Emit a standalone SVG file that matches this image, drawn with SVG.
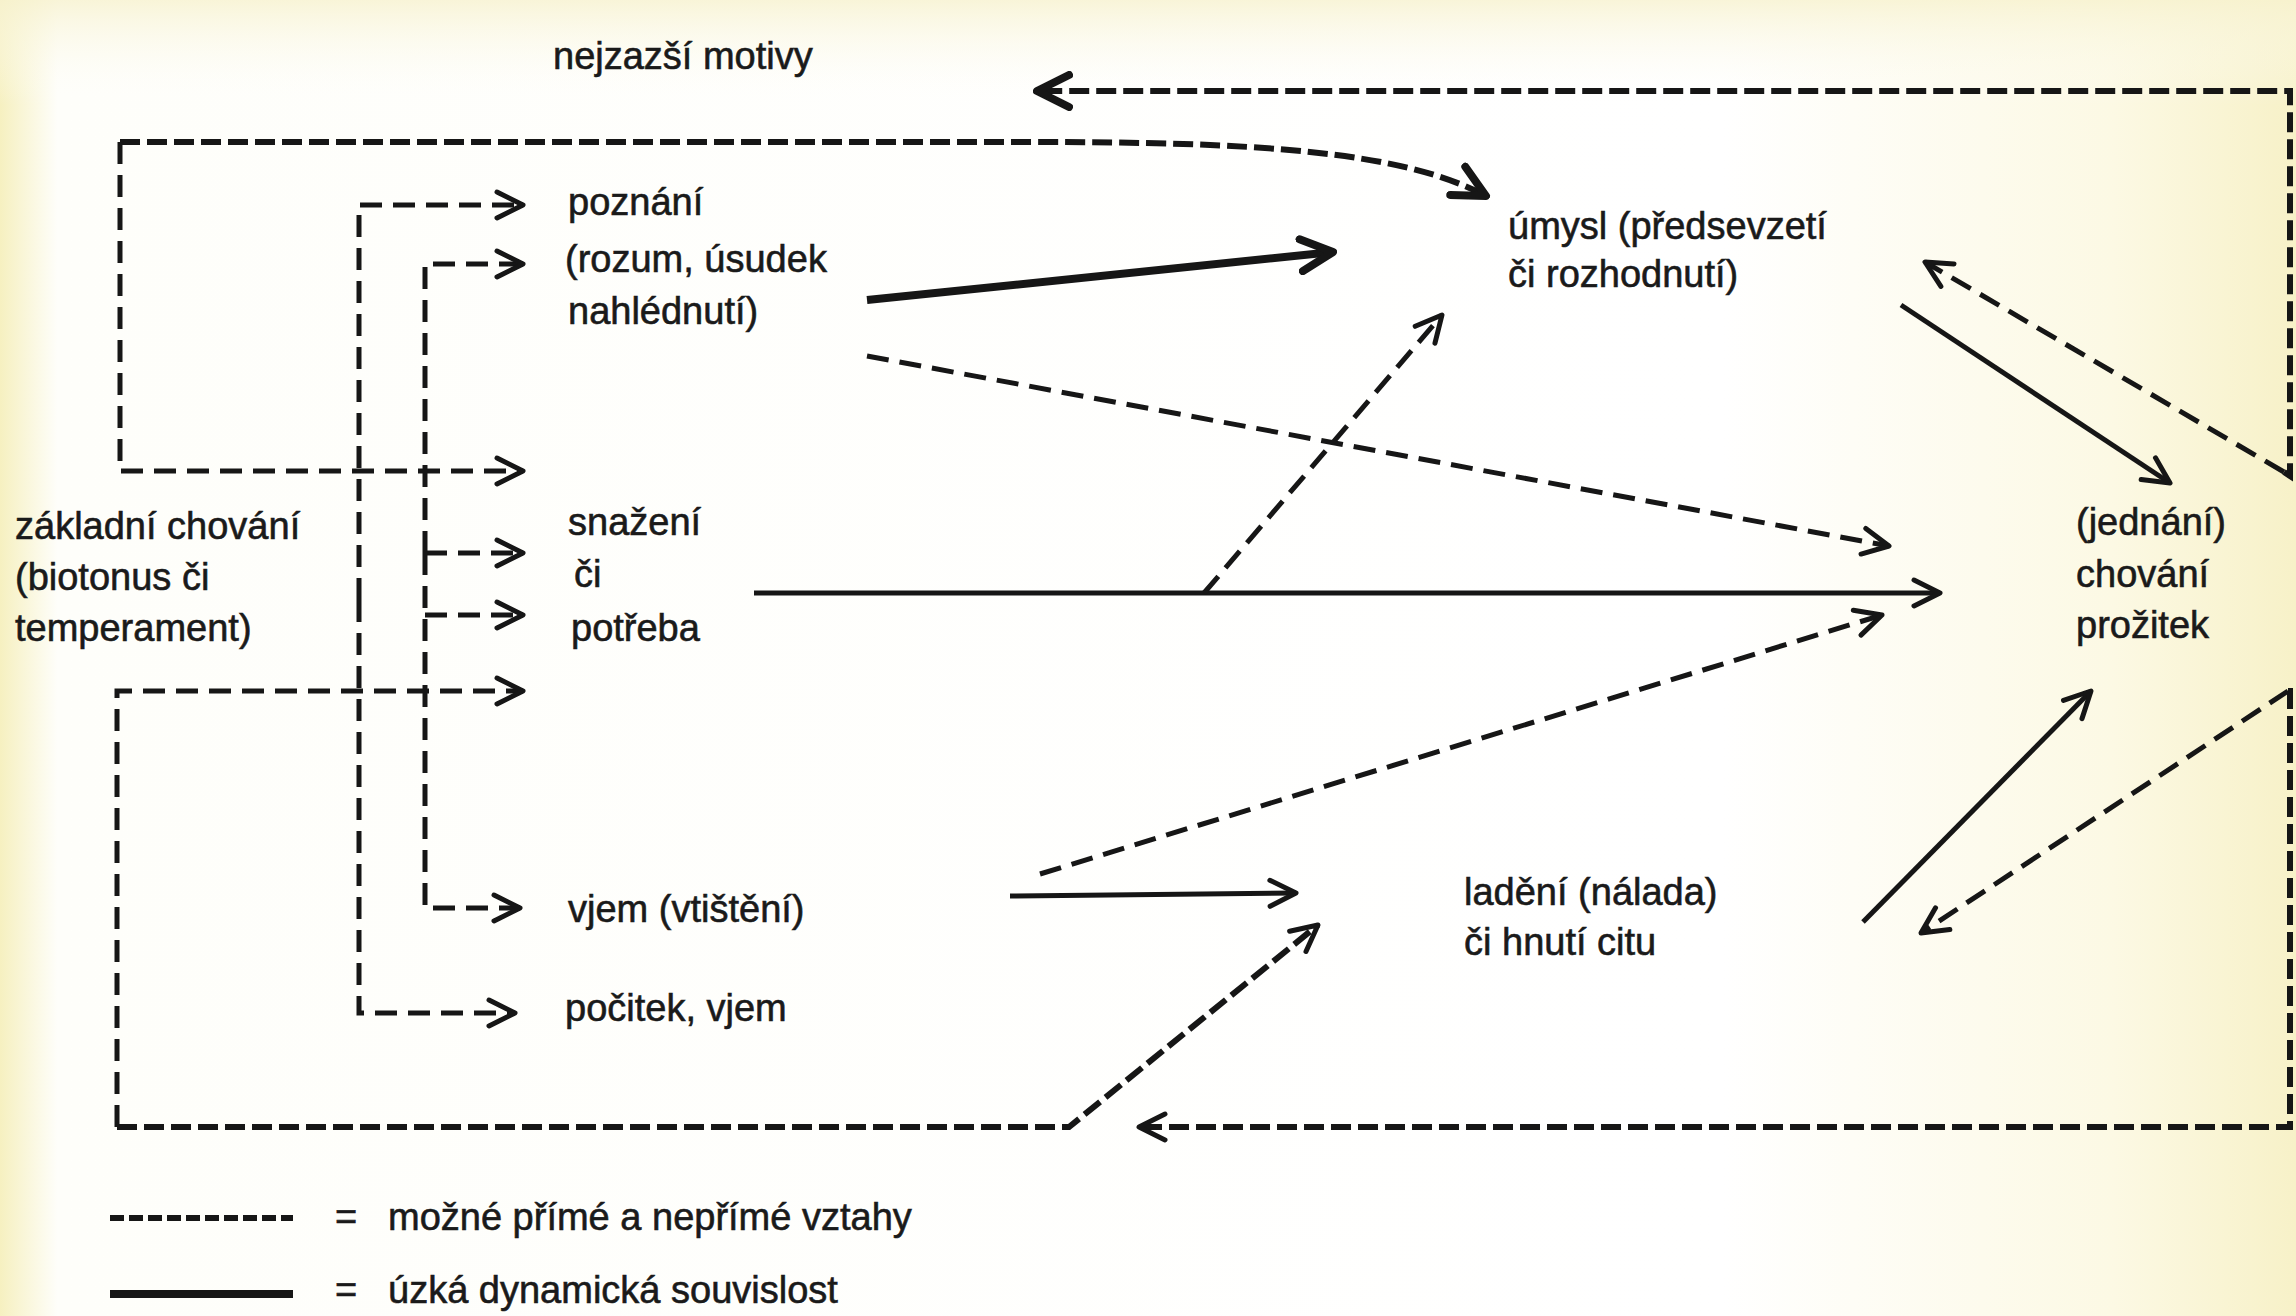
<svg xmlns="http://www.w3.org/2000/svg" width="2296" height="1316" viewBox="0 0 2296 1316">
<defs>
<linearGradient id="bg" x1="0" y1="0" x2="1" y2="0">
<stop offset="0" stop-color="#f6f0c0"/>
<stop offset="0.025" stop-color="#fefefa"/>
<stop offset="0.75" stop-color="#ffffff"/>
<stop offset="0.92" stop-color="#fcf9e4"/>
<stop offset="1" stop-color="#f7f1c8"/>
</linearGradient>
<linearGradient id="bgTop" x1="0" y1="0" x2="0" y2="1">
<stop offset="0" stop-color="#f7f2cf" stop-opacity="0.8"/>
<stop offset="0.08" stop-color="#ffffff" stop-opacity="0"/>
</linearGradient>
<marker id="ah" viewBox="0 0 32 32" refX="29" refY="16" markerWidth="32" markerHeight="32" markerUnits="userSpaceOnUse" orient="auto">
<path d="M3,3 L29,16 L3,29" fill="none" stroke="#161616" stroke-width="5" stroke-linecap="round" stroke-linejoin="round" stroke-dasharray="none"/>
</marker>
<marker id="ahb" viewBox="0 0 40 40" refX="36" refY="20" markerWidth="40" markerHeight="40" markerUnits="userSpaceOnUse" orient="auto">
<path d="M4,4 L36,20 L4,36" fill="none" stroke="#161616" stroke-width="8" stroke-linecap="round" stroke-linejoin="round" stroke-dasharray="none"/>
</marker>
</defs>
<style>
text { font-family: "Liberation Sans", Arial, sans-serif; font-size: 38px; fill: #1a1a1a; stroke: #1a1a1a; stroke-width: 0.6px; }
.d { fill: none; stroke: #161616; stroke-width: 5; stroke-dasharray: 22 11; }
.dd { fill: none; stroke: #161616; stroke-width: 6; stroke-dasharray: 20 7; }
.s { fill: none; stroke: #161616; stroke-width: 5; }
.sb { fill: none; stroke: #161616; stroke-width: 8; }
</style>
<rect x="0" y="0" width="2296" height="1316" fill="url(#bg)"/>
<rect x="0" y="0" width="2296" height="1316" fill="url(#bgTop)"/>

<g id="connectors">
<!-- top left loop -->
<path class="dd" d="M120,142 L1030,142 C1250,142 1400,150 1486,196" marker-end="url(#ahb)"/>
<path class="d" d="M120,142 L120,471 L523,471" marker-end="url(#ah)"/>
<!-- top return from right -->
<path class="dd" d="M2284,472 L2290,476 L2290,91 L1037,91" marker-end="url(#ahb)"/>
<path class="d" d="M2284,472 L1925,262" marker-end="url(#ah)"/>
<!-- bottom right return -->
<path class="dd" d="M2288,691 L2290,691 L2290,1127 L1139,1127" marker-end="url(#ah)"/>
<path class="d" d="M2288,691 L1921,933" marker-end="url(#ah)"/>
<!-- bottom left loop -->
<path class="d" d="M117,1127 L117,691 L523,691" marker-end="url(#ah)"/>
<path class="dd" d="M117,1127 L1069,1127 L1318,925" marker-end="url(#ah)"/>
<!-- middle vertical -->
<path class="d" d="M359,600 L359,205 L523,205" marker-end="url(#ah)"/>
<path class="d" d="M359,600 L359,1013 L515,1013" marker-end="url(#ah)"/>
<!-- inner vertical -->
<path class="d" d="M425,553 L425,264 L523,264" marker-end="url(#ah)"/>
<path class="d" d="M425,553 L425,908 L520,908" marker-end="url(#ah)"/>
<path class="d" d="M425,553 L523,553" marker-end="url(#ah)"/>
<path class="d" d="M425,615 L523,615" marker-end="url(#ah)"/>
<!-- right-side arrows -->
<path class="sb" d="M867,300 L1333,252" marker-end="url(#ahb)"/>
<path class="d" d="M867,356 L1889,546" marker-end="url(#ah)"/>
<path class="s" d="M754,593 L1940,593" marker-end="url(#ah)"/>
<path class="d" d="M1204,593 L1442,315" marker-end="url(#ah)"/>
<path class="s" d="M1010,896 L1296,893" marker-end="url(#ah)"/>
<path class="d" d="M1040,874 L1882,615" marker-end="url(#ah)"/>
<path class="s" d="M1901,305 L2170,483" marker-end="url(#ah)"/>
<path class="s" d="M1863,922 L2091,691" marker-end="url(#ah)"/>
</g>

<g id="n-motivy"><text x="553" y="69">nejzazší motivy</text></g>
<g id="n-poznani"><text x="568" y="215">poznání</text></g>
<g id="n-rozum"><text x="565" y="272">(rozum, úsudek</text><text x="568" y="324">nahlédnutí)</text></g>
<g id="n-snazeni"><text x="568" y="535">snažení</text><text x="574" y="587">či</text><text x="571" y="641">potřeba</text></g>
<g id="n-zakladni"><text x="15" y="539">základní chování</text><text x="15" y="590">(biotonus či</text><text x="15" y="641">temperament)</text></g>
<g id="n-vjem"><text x="568" y="922">vjem (vtištění)</text></g>
<g id="n-pocitek"><text x="565" y="1021">počitek, vjem</text></g>
<g id="n-umysl"><text x="1508" y="239">úmysl (předsevzetí</text><text x="1508" y="287">či rozhodnutí)</text></g>
<g id="n-chovani"><text x="2076" y="535">(jednání)</text><text x="2076" y="587">chování</text><text x="2076" y="638">prožitek</text></g>
<g id="n-ladeni"><text x="1464" y="905">ladění (nálada)</text><text x="1464" y="955">či hnutí citu</text></g>

<g id="legend">
<path class="dd" d="M110,1218 L293,1218" style="stroke-dasharray: 14 5"/>
<path class="sb" d="M110,1294 L293,1294"/>
<text x="335" y="1230">=</text>
<text x="388" y="1230">možné přímé a nepřímé vztahy</text>
<text x="335" y="1303">=</text>
<text x="388" y="1303">úzká dynamická souvislost</text>
</g>
</svg>
